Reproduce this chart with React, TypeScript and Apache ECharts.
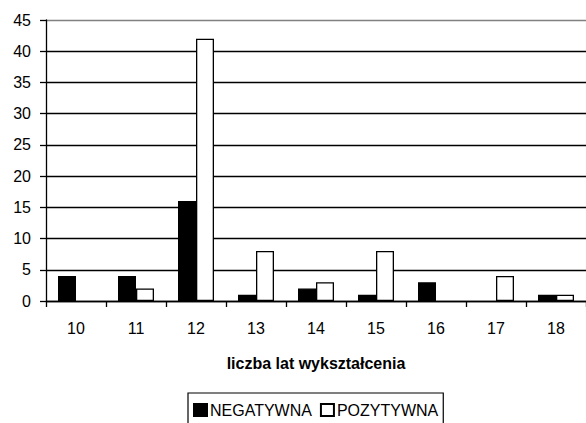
import React, { useEffect, useRef } from "react";
import * as echarts from "echarts";

const categories = ["10", "11", "12", "13", "14", "15", "16", "17", "18"];
const negatywna = [4, 4, 16, 1, 2, 1, 3, 0, 1];
const pozytywna = [0, 2, 42, 8, 3, 8, 0, 4, 1];
const seriesNames = ["NEGATYWNA", "POZYTYWNA"];
const xAxisTitle = "liczba lat wykształcenia";

const FONT = "'Liberation Sans', Arial, sans-serif";

// zero values are not drawn as bars in the reference
const toBarData = (arr: number[]) => arr.map((v) => (v === 0 ? "-" : v));

export default function App() {
  const ref = useRef<HTMLDivElement>(null);
  useEffect(() => {
    if (!ref.current) return;
    const chart = echarts.init(ref.current, null, { renderer: "svg" });
    const gridColors = ["#000", "#000", "#000", "#000", "#000", "#000", "#000", "#000", "#000", "#808080"];
    chart.setOption({
      animation: false,
      backgroundColor: "#fff",
      textStyle: { fontFamily: FONT },
      grid: { left: 46, right: 0, top: 20, bottom: 122, containLabel: false },
      xAxis: {
        type: "category",
        data: categories,
        boundaryGap: true,
        axisLine: { show: true, lineStyle: { color: "#000", width: 1.3 } },
        axisTick: { show: true, alignWithLabel: false, length: 6, lineStyle: { color: "#000", width: 1.3 } },
        axisLabel: { color: "#000", fontSize: 16, fontFamily: FONT, margin: 19 },
        name: xAxisTitle,
        nameLocation: "middle",
        nameGap: 54,
        nameTextStyle: { color: "#000", fontSize: 16, fontWeight: "bold", fontFamily: FONT },
      },
      yAxis: {
        type: "value",
        min: 0,
        max: 45,
        interval: 5,
        axisLine: { show: true, lineStyle: { color: "#000", width: 1.3 } },
        axisTick: { show: true, length: 6, lineStyle: { color: "#000", width: 1.3 } },
        axisLabel: { color: "#000", fontSize: 16, fontFamily: FONT, margin: 15 },
        splitLine: { show: true, lineStyle: { color: gridColors, width: 1.3 } },
      },
      legend: {
        data: seriesNames,
        left: 188,
        top: 393,
        orient: "horizontal",
        borderColor: "#000",
        borderWidth: 1.2,
        padding: [9, 5, 12, 5],
        itemWidth: 13,
        itemHeight: 12,
        itemGap: 8,
        icon: "rect",
        textStyle: { color: "#000", fontSize: 16, fontFamily: FONT, padding: [0, 0, 0, -2] },
      },
      series: [
        {
          name: seriesNames[0],
          type: "bar",
          data: toBarData(negatywna),
          barWidth: 18,
          barGap: "0%",
          itemStyle: { color: "#000", borderColor: "#000", borderWidth: 1.3 },
        },
        {
          name: seriesNames[1],
          type: "bar",
          data: toBarData(pozytywna),
          barWidth: 18,
          barGap: "0%",
          itemStyle: { color: "#fff", borderColor: "#000", borderWidth: 1.3 },
        },
      ],
    });
    return () => chart.dispose();
  }, []);
  return (
    <div
      ref={ref}
      style={{ position: "fixed", left: 0, top: 0, width: 586, height: 423 }}
    />
  );
}
